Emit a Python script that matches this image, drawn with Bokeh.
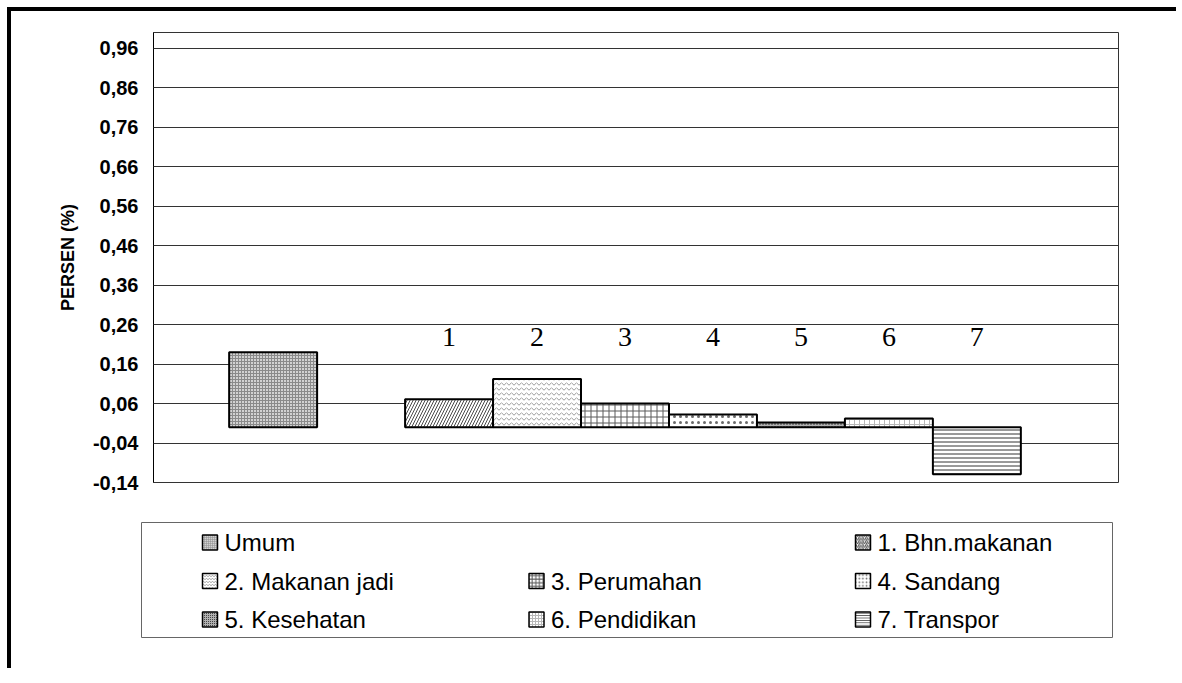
from bokeh.plotting import figure
from bokeh.layouts import column
from bokeh.models import Range1d, FixedTicker, ColumnDataSource
from bokeh.core.properties import value
from bokeh.embed import file_html
from bokeh.resources import INLINE

# ---------------- data ----------------
series_names = ["Umum", "", "1. Bhn.makanan", "2. Makanan jadi", "3. Perumahan",
                "4. Sandang", "5. Kesehatan", "6. Pendidikan", "7. Transpor"]
series_values = [0.19, None, 0.071, 0.122, 0.060, 0.032, 0.012, 0.022, -0.119]
bar_numbers = ["", "", "1", "2", "3", "4", "5", "6", "7"]
y_ticks = [-0.14, -0.04, 0.06, 0.16, 0.26, 0.36, 0.46, 0.56, 0.66, 0.76, 0.86, 0.96]
y_tick_labels = ["-0,14", "-0,04", "0,06", "0,16", "0,26", "0,36", "0,46", "0,56",
                 "0,66", "0,76", "0,86", "0,96"]
y_title = "PERSEN (%)"

# ---------------- styles ----------------
fill_styles = [
    dict(fill_color="#d2d2d2", hatch_pattern="cross", hatch_color="#8a8a8a", hatch_scale=3.0, hatch_weight=1.0),
    None,
    dict(fill_color="#ffffff", hatch_pattern="right_diagonal_line", hatch_color="#4a4a4a", hatch_scale=6.0, hatch_weight=1.0),
    dict(fill_color="#ffffff", hatch_pattern="horizontal_wave", hatch_color="#9a9a9a", hatch_scale=5.0, hatch_weight=1.0),
    dict(fill_color="#ffffff", hatch_pattern="cross", hatch_color="#5a5a5a", hatch_scale=6.0, hatch_weight=1.0),
    dict(fill_color="#ffffff", hatch_pattern="dot", hatch_color="#6a6a6a", hatch_scale=6.0, hatch_weight=1.0),
    dict(fill_color="#b0b0b0", hatch_pattern="dot", hatch_color="#222222", hatch_scale=3.0, hatch_weight=1.0),
    dict(fill_color="#ffffff", hatch_pattern="cross", hatch_color="#b8b8b8", hatch_scale=5.0, hatch_weight=1.0),
    dict(fill_color="#ffffff", hatch_pattern="horizontal_line", hatch_color="#333333", hatch_scale=4.0, hatch_weight=1.0),
]

keep = [i for i, v in enumerate(series_values) if v is not None]
slots = list(range(len(series_names)))

src = ColumnDataSource(dict(
    x=[slots[i] for i in keep],
    top=[series_values[i] for i in keep],
    fill_color=[fill_styles[i]["fill_color"] for i in keep],
    hatch_pattern=[fill_styles[i]["hatch_pattern"] for i in keep],
    hatch_color=[fill_styles[i]["hatch_color"] for i in keep],
    hatch_scale=[fill_styles[i]["hatch_scale"] for i in keep],
    hatch_weight=[fill_styles[i]["hatch_weight"] for i in keep],
))

# ---------------- main chart ----------------
p = figure(width=1165, height=497, output_backend="svg", toolbar_location=None,
           x_range=Range1d(-1.36, 9.61), y_range=Range1d(-0.14, 1.0),
           x_axis_location=None, frame_align=False,
           min_border_left=142, min_border_right=58, min_border_top=21, min_border_bottom=26)
p.background_fill_color = "white"
p.border_fill_color = "white"
p.outline_line_color = "#333333"
p.outline_line_width = 1

p.xgrid.visible = False
p.ygrid.ticker = FixedTicker(ticks=y_ticks)
p.ygrid.grid_line_color = "#333333"
p.ygrid.grid_line_width = 1

ax = p.yaxis[0]
ax.ticker = FixedTicker(ticks=y_ticks)
ax.major_label_overrides = {t: l for t, l in zip(y_ticks, y_tick_labels)}
ax.major_tick_in = 6
ax.major_tick_out = 0
ax.minor_tick_line_color = None
ax.axis_line_color = "black"
ax.major_tick_line_color = "#333333"
ax.major_label_text_font = "Liberation Sans"
ax.major_label_text_font_style = "bold"
ax.major_label_text_font_size = "20px"
ax.major_label_text_color = "black"
ax.major_label_standoff = 15
ax.axis_label = y_title
ax.axis_label_text_font = "Liberation Sans"
ax.axis_label_text_font_style = "bold"
ax.axis_label_text_font_size = "18px"
ax.axis_label_text_color = "black"
ax.axis_label_standoff = 12

p.vbar(x="x", top="top", bottom=0, width=1.0, source=src,
       fill_color="fill_color", hatch_pattern="hatch_pattern", hatch_color="hatch_color",
       hatch_scale="hatch_scale", hatch_weight="hatch_weight",
       line_color="black", line_width=2)

label_y = 0.228
p.text(x=slots, y=[label_y] * len(slots), text=bar_numbers,
       text_font=value("Liberation Serif"), text_font_size="28px",
       text_align="center", text_baseline="middle", text_color="black")

# ---------------- legend panel ----------------
box_w, box_h = 971, 115
q = figure(width=1165, height=160, output_backend="svg", toolbar_location=None,
           x_range=Range1d(0, box_w), y_range=Range1d(box_h, 0),
           x_axis_location=None, y_axis_location=None, frame_align=False,
           min_border_left=130, min_border_right=64, min_border_top=14, min_border_bottom=31)
q.grid.visible = False
q.outline_line_color = "#666666"
q.outline_line_width = 1
q.border_fill_color = "white"

col_x0, col_pitch = 61, 326.5
row_y0, row_pitch = 20, 38.5
icon = 15
lx, ly, names, lf, lhp, lhc, lhs, lhw = [], [], [], [], [], [], [], []
for i, name in enumerate(series_names):
    if not name:
        continue
    r, c = divmod(i, 3)
    lx.append(col_x0 + c * col_pitch)
    ly.append(row_y0 + r * row_pitch)
    names.append(name)
    st = fill_styles[i]
    lf.append(st["fill_color"]); lhp.append(st["hatch_pattern"]); lhc.append(st["hatch_color"])
    lhs.append(max(2.0, st["hatch_scale"] * 0.6)); lhw.append(st["hatch_weight"])

lsrc = ColumnDataSource(dict(x=[v + icon / 2 for v in lx], y=ly, tx=[v + icon + 7 for v in lx],
                             name=names, fill_color=lf, hatch_pattern=lhp, hatch_color=lhc,
                             hatch_scale=lhs, hatch_weight=lhw))
q.rect(x="x", y="y", width=icon, height=icon, source=lsrc, fill_color="fill_color",
       hatch_pattern="hatch_pattern", hatch_color="hatch_color", hatch_scale="hatch_scale",
       hatch_weight="hatch_weight", line_color="black", line_width=1.5)
q.text(x="tx", y="y", text="name", source=lsrc, text_font=value("Liberation Sans"),
       text_font_size="24px", text_align="left", text_baseline="middle", text_color="black")

layout = column(p, q, spacing=0,
                styles={"border-left": "4px solid black", "border-top": "4px solid black",
                        "margin-left": "7px", "margin-top": "7px"})

open("out.html", "w").write(file_html(layout, INLINE))
